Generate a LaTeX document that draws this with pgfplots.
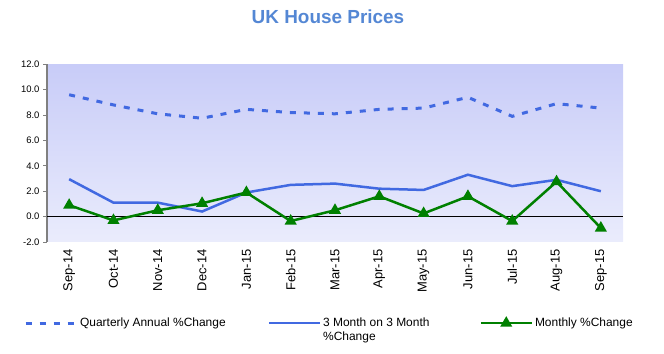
\documentclass[border=0pt]{standalone}
\usepackage{pgfplots}
\pgfplotsset{compat=1.18}
\usepackage{fontspec}
\setmainfont{Liberation Sans}
\definecolor{ttl}{RGB}{84,135,212}
\definecolor{lineblue}{RGB}{65,105,225}
\definecolor{linegreen}{RGB}{0,128,0}
\definecolor{bgtop}{RGB}{200,204,248}
\definecolor{bgbot}{RGB}{234,236,252}
\begin{document}
\begin{tikzpicture}
\useasboundingbox (0,0) rectangle (664bp,354bp);
\node[font=\bfseries\fontsize{19}{22}\selectfont, text=ttl] at (328bp,337bp) {UK House Prices};
\begin{axis}[
  at={(47bp,112bp)}, anchor=south west,
  scale only axis, width=576bp, height=177.7bp,
  xmin=-0.5, xmax=12.5, ymin=-2, ymax=12,
  axis background/.style={top color=bgtop, bottom color=bgbot},
  axis x line*=bottom, axis y line*=left,
  x axis line style={draw=none},
  y axis line style={draw=gray, line width=1.5bp, -},
  xtick={0,...,12},
  xticklabels={Sep-14,Oct-14,Nov-14,Dec-14,Jan-15,Feb-15,Mar-15,Apr-15,May-15,Jun-15,Jul-15,Aug-15,Sep-15},
  x tick label style={rotate=90, anchor=east, font=\fontsize{13}{13}\selectfont},
  xtick style={draw=none},
  ytick={-2,0,...,12},
  y tick label style={font=\fontsize{9.5}{10}\selectfont},
  yticklabel style={/pgf/number format/.cd, fixed, fixed zerofill, precision=1},
  /pgf/number format/assume math mode=true,
  ytick style={draw=gray, line width=0.8bp},
  tick align=outside, major tick length=4bp,
  extra y ticks={0}, extra y tick labels={},
  extra y tick style={grid=major, major grid style={black, line width=0.8bp}, tick style={draw=none}},
  legend columns=3,
  legend image code/.code={\draw[#1, mark repeat=2, mark phase=2] plot coordinates {(0bp,0bp) (25.5bp,0bp) (51bp,0bp)};},
  legend style={at={(axis description cs:-0.04,-0.416)}, anchor=north west, draw=none, fill=none, inner sep=0pt,
    font=\fontsize{12}{14}\selectfont,
    /tikz/column 2/.style={column sep=40bp},
    /tikz/column 4/.style={column sep=48bp}},
]
\addplot[lineblue, line width=3bp, dash pattern=on 6bp off 8bp] coordinates {
(0,9.6) (1,8.8) (2,8.1) (3,7.75) (4,8.45) (5,8.2) (6,8.1) (7,8.45) (8,8.55) (9,9.4) (10,7.9) (11,8.9) (12,8.55)};
\addlegendentry{Quarterly Annual \%Change}
\addplot[lineblue, line width=2.5bp] coordinates {
(0,2.95) (1,1.1) (2,1.1) (3,0.4) (4,1.9) (5,2.5) (6,2.6) (7,2.2) (8,2.1) (9,3.3) (10,2.4) (11,2.9) (12,2.0)};
\addlegendentry{\raisebox{0pt}[\height][0pt]{\vtop{\hbox{3 Month on 3 Month}\hbox{\%Change}}}}
\addplot[linegreen, line width=2.5bp, mark=triangle*, mark size=4.5bp, mark options={solid}] coordinates {
(0,0.9) (1,-0.3) (2,0.5) (3,1.05) (4,1.9) (5,-0.35) (6,0.5) (7,1.6) (8,0.25) (9,1.6) (10,-0.35) (11,2.75) (12,-0.9)};
\addlegendentry{Monthly \%Change}
\end{axis}
\end{tikzpicture}
\end{document}
